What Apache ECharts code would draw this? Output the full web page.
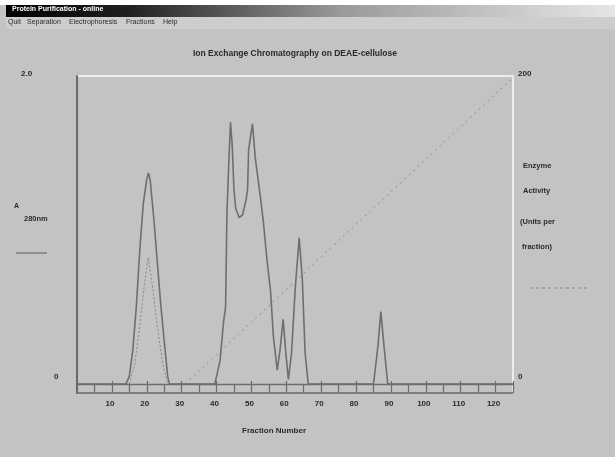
<!DOCTYPE html>
<html>
<head>
<meta charset="utf-8">
<script src="https://cdn.jsdelivr.net/npm/echarts@6/dist/echarts.min.js"></script>
<style>
html,body{margin:0;padding:0;background:#c3c3c3;}
#chart{width:615px;height:457px;}
</style>
</head>
<body>
<div id="chart"></div>
<script>
// ---- data ----
var a280Fractions = [0, 14, 15, 16, 17, 18, 19, 20, 20.5, 21, 22, 23, 24, 25, 26, 26.5,
  39.5, 41, 42, 42.6, 43, 43.5, 44, 44.5, 45, 45.5, 46.5, 47.5, 48.5, 48.9, 49.2, 50.3, 51.1, 52.6, 53.4, 54.5, 55.5, 56.3, 57.4,
  58.2, 59.1, 59.8, 60.6, 61.5, 62.6, 63.7, 64.6, 65.4, 66.3, 85, 86.3, 87.1, 88, 89.1, 125];
var a280Values = [0, 0, 0.05, 0.22, 0.5, 0.87, 1.17, 1.33, 1.37, 1.32, 1.08, 0.8, 0.52, 0.28, 0.05, 0,
  0, 0.15, 0.4, 0.5, 1.12, 1.42, 1.70, 1.55, 1.26, 1.14, 1.08, 1.1, 1.2, 1.26, 1.52, 1.69, 1.47, 1.21, 1.06, 0.8, 0.6, 0.31, 0.09,
  0.22, 0.42, 0.22, 0.03, 0.2, 0.63, 0.95, 0.68, 0.2, 0, 0, 0.25, 0.47, 0.25, 0, 0];
var enzymeFractions = [15, 16.5, 18, 19.5, 20.4, 21.5, 23, 24.5, 26];
var enzymeValues = [0, 12, 38, 68, 82, 66, 38, 14, 0];
var gradientFractions = [31, 124.6];
var gradientValues = [0, 198];
var xTickLabels = ['10', '20', '30', '40', '50', '60', '70', '80', '90', '100', '110', '120'];
var leftAxisLabels = ['2.0', '0'];
var rightAxisLabels = ['200', '0'];

function pairs(xs, ys) { return xs.map(function (x, i) { return [x, ys[i]]; }); }

var chart = echarts.init(document.getElementById('chart'), null, { renderer: 'canvas' });
var txt = '#2a2a2a';
var fontF = '"Liberation Sans", Arial, sans-serif';
var option = {
  backgroundColor: '#c3c3c3',
  animation: false,
  grid: { left: 77, top: 76, width: 436, height: 317 },
  xAxis: {
    type: 'value', min: 0, max: 125, interval: 10,
    axisLine: { show: true, onZero: false, lineStyle: { color: '#6a6a6a', width: 1.5 } },
    axisTick: { show: true, inside: true, length: 12, lineStyle: { color: '#6a6a6a', width: 1.2 } },
    minorTick: { show: true, splitNumber: 2, length: 8, lineStyle: { color: '#6a6a6a', width: 1.2 } },
    splitLine: { show: false },
    axisLabel: {
      margin: 7, color: txt, fontSize: 8, fontWeight: 'bold', fontFamily: fontF,
      showMinLabel: false, showMaxLabel: false, padding: [0, 4, 0, 0],
      formatter: function (v) { var i = Math.round(v / 10) - 1; return xTickLabels[i] || ''; }
    },
    name: 'Fraction Number', nameLocation: 'middle', nameGap: 34,
    nameTextStyle: { color: txt, fontSize: 8, fontWeight: 'bold', fontFamily: fontF, padding: [0, 42, 0, 0] }
  },
  yAxis: [
    {
      type: 'value', min: -0.058, max: 2.0,
      axisLine: { show: true, onZero: false, lineStyle: { color: '#6a6a6a', width: 2 } },
      axisTick: { show: false }, axisLabel: { show: false }, splitLine: { show: false }
    },
    {
      type: 'value', min: -5.84, max: 200, position: 'right',
      axisLine: { show: true, onZero: false, lineStyle: { color: '#ececec', width: 2 } },
      axisTick: { show: false }, axisLabel: { show: false }, splitLine: { show: false }
    }
  ],
  series: [
    {
      name: 'Salt gradient', type: 'line', yAxisIndex: 1, symbol: 'none', z: 1,
      lineStyle: { color: '#8c8c8c', width: 1, type: [2, 4] },
      data: pairs(gradientFractions, gradientValues)
    },
    {
      name: 'Enzyme Activity', type: 'line', yAxisIndex: 1, symbol: 'none', z: 2,
      lineStyle: { color: '#858585', width: 1, type: [2, 2] },
      data: pairs(enzymeFractions, enzymeValues)
    },
    {
      name: 'A280nm', type: 'line', yAxisIndex: 0, symbol: 'none', z: 3,
      lineStyle: { color: '#6e6e6e', width: 1.6 },
      markLine: {
        silent: true, symbol: 'none', label: { show: false },
        lineStyle: { color: '#6e6e6e', width: 1.4, type: 'solid' },
        data: [{ yAxis: 0 }]
      },
      data: pairs(a280Fractions, a280Values)
    }
  ],
  graphic: [
    { type: 'rect', shape: { x: 0, y: 0, width: 615, height: 5 }, style: { fill: '#ffffff' } },
    { type: 'rect', shape: { x: 6, y: 5, width: 609, height: 12 },
      style: { fill: new echarts.graphic.LinearGradient(0, 0, 1, 0, [
        { offset: 0, color: '#000000' }, { offset: 0.2, color: '#202020' }, { offset: 0.55, color: '#9a9a9a' }, { offset: 1, color: '#e6e6e6' }]) } },
    { type: 'text', x: 12, y: 6, style: { text: 'Protein Purification - online', fill: '#ffffff', font: 'bold 7px ' + fontF } },
    { type: 'rect', shape: { x: 6, y: 17, width: 609, height: 12 }, style: { fill: '#cdcdcd' } },
    { type: 'text', x: 8, y: 19, style: { text: 'Quit', fill: txt, font: '7px ' + fontF } },
    { type: 'text', x: 27, y: 19, style: { text: 'Separation', fill: txt, font: '7px ' + fontF } },
    { type: 'text', x: 69, y: 19, style: { text: 'Electrophoresis', fill: txt, font: '7px ' + fontF } },
    { type: 'text', x: 126, y: 19, style: { text: 'Fractions', fill: txt, font: '7px ' + fontF } },
    { type: 'text', x: 163, y: 19, style: { text: 'Help', fill: txt, font: '7px ' + fontF } },
    { type: 'text', x: 295, y: 49, style: { text: 'Ion Exchange Chromatography on DEAE-cellulose', fill: txt, font: 'bold 8.5px ' + fontF, textAlign: 'center' } },
    { type: 'line', shape: { x1: 76, y1: 76, x2: 514, y2: 76 }, style: { stroke: '#ececec', lineWidth: 2 } },
    { type: 'text', x: 21, y: 70, style: { text: leftAxisLabels[0], fill: txt, font: 'bold 8px ' + fontF } },
    { type: 'text', x: 54, y: 373, style: { text: leftAxisLabels[1], fill: txt, font: 'bold 8px ' + fontF } },
    { type: 'text', x: 518, y: 70, style: { text: rightAxisLabels[0], fill: txt, font: 'bold 8px ' + fontF } },
    { type: 'text', x: 518, y: 373, style: { text: rightAxisLabels[1], fill: txt, font: 'bold 8px ' + fontF } },
    { type: 'text', x: 14, y: 203, style: { text: 'A', fill: txt, font: 'bold 7px ' + fontF } },
    { type: 'text', x: 24, y: 215, style: { text: '280nm', fill: txt, font: 'bold 7.5px ' + fontF } },
    { type: 'line', shape: { x1: 16, y1: 253, x2: 47, y2: 253 }, style: { stroke: '#6e6e6e', lineWidth: 1.2 } },
    { type: 'text', x: 523, y: 162, style: { text: 'Enzyme', fill: txt, font: 'bold 7.5px ' + fontF } },
    { type: 'text', x: 523, y: 187, style: { text: 'Activity', fill: txt, font: 'bold 7.5px ' + fontF } },
    { type: 'text', x: 520, y: 218, style: { text: '(Units per', fill: txt, font: 'bold 7.5px ' + fontF } },
    { type: 'text', x: 522, y: 243, style: { text: 'fraction)', fill: txt, font: 'bold 7.5px ' + fontF } },
    { type: 'line', shape: { x1: 530, y1: 288, x2: 588, y2: 288 }, style: { stroke: '#858585', lineWidth: 1, lineDash: [3, 3] } }
  ]
};
chart.setOption(option);
</script>
</body>
</html>
